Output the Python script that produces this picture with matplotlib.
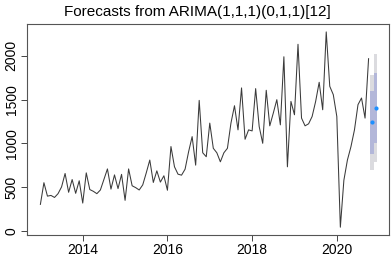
import numpy as np
import matplotlib.pyplot as plt

plt.rcParams['font.family'] = ['Liberation Sans', 'DejaVu Sans']

# monthly series, Jan 2013 .. Oct 2020
start_year = 2013
sales = [306, 553, 400, 408, 385, 428, 505, 658, 444, 589, 432, 575,
         321, 665, 475, 455, 428, 470, 590, 710, 480, 642, 486, 648,
         352, 710, 518, 497, 470, 528, 665, 811, 556, 688, 560, 632,
         467, 965, 734, 650, 639, 707, 906, 1078, 753, 1491, 894, 849,
         1232, 945, 894, 791, 894, 945, 1232, 1430, 1155, 1633, 1048, 1155,
         1143, 1625, 1193, 1002, 1606, 1201, 1346, 1499, 1212, 1988, 734, 1479,
         1327, 2130, 1289, 1201, 1224, 1307, 1479, 1697, 1384, 2271, 1651, 1556,
         1307, 46, 581, 811, 963, 1155, 1442, 1518, 1289, 1966]

# forecasts for Nov and Dec 2020
fc_mean = [1240, 1403]
lo80 = [884, 1003]
hi80 = [1596, 1803]
lo95 = [695, 791]
hi95 = [1785, 2015]

t = start_year + np.arange(len(sales)) / 12
tf = start_year + (len(sales) + np.arange(len(fc_mean))) / 12

fig = plt.figure(figsize=(3.91, 2.62), dpi=100)
ax = fig.add_axes([0.069, 0.103, 0.926, 0.805])

w = 1 / 12
ax.bar(tf, np.array(hi95) - np.array(lo95), bottom=lo95, width=w,
       color='#dbdbdf', linewidth=0)
ax.bar(tf, np.array(hi80) - np.array(lo80), bottom=lo80, width=w,
       color='#b3b7d9', linewidth=0)
ax.plot(t, sales, color='#3a3a3a', linewidth=0.75)
ax.plot(tf, fc_mean, 'o', color='#1e90ff', markersize=3, markeredgewidth=0)

# R-style 4% padding
x0, x1 = t[0], tf[-1]
ax.set_xlim(x0 - 0.04 * (x1 - x0), x1 + 0.04 * (x1 - x0))
ymin = min(min(sales), min(lo95))
ymax = max(max(sales), max(hi95))
ax.set_ylim(ymin - 0.04 * (ymax - ymin), ymax + 0.04 * (ymax - ymin))

ax.set_xticks([2014, 2016, 2018, 2020])
ax.set_yticks([0, 500, 1000, 1500, 2000])
ax.tick_params(labelsize=10, length=4, width=0.7, color='#444444', pad=2)
for lab in ax.get_yticklabels():
    lab.set_rotation(90)
    lab.set_va('center')
for s in ax.spines.values():
    s.set_color('#555555')
    s.set_linewidth(0.8)

fig.text(0.506, 0.955, 'Forecasts from ARIMA(1,1,1)(0,1,1)[12]',
         ha='center', va='center', fontsize=11)

fig.savefig('out.png', dpi=100)
